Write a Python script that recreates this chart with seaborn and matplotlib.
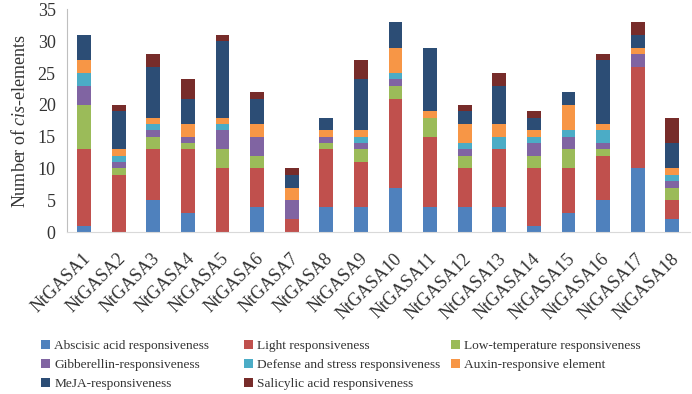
import matplotlib
matplotlib.use('Agg')
import matplotlib.pyplot as plt
import matplotlib.transforms as mtransforms
import seaborn as sns
import numpy as np

genes = ['NtGASA%d' % i for i in range(1, 19)]
categories = ['Abscisic acid responsiveness', 'Light responsiveness',
              'Low-temperature responsiveness', 'Gibberellin-responsiveness',
              'Defense and stress responsiveness', 'Auxin-responsive element',
              'MeJA-responsiveness', 'Salicylic acid responsiveness']

abscisic = [1, 0, 5, 3, 0, 4, 0, 4, 4, 7, 4, 4, 4, 1, 3, 5, 10, 2]
light = [12, 9, 8, 10, 10, 6, 2, 9, 7, 14, 11, 6, 9, 9, 7, 7, 16, 3]
low_temp = [7, 1, 2, 1, 3, 2, 0, 1, 2, 2, 3, 2, 0, 2, 3, 1, 0, 2]
gibberellin = [3, 1, 1, 1, 3, 3, 3, 1, 1, 1, 0, 1, 0, 2, 2, 1, 2, 1]
defense = [2, 1, 1, 0, 1, 0, 0, 0, 1, 1, 0, 1, 2, 1, 1, 2, 0, 1]
auxin = [2, 1, 1, 2, 1, 2, 2, 1, 1, 4, 1, 3, 2, 1, 4, 1, 1, 1]
meja = [4, 6, 8, 4, 12, 4, 2, 2, 8, 4, 10, 2, 6, 2, 2, 10, 2, 4]
salicylic = [0, 1, 2, 3, 1, 1, 1, 0, 3, 0, 0, 1, 2, 1, 0, 1, 2, 4]

series = [abscisic, light, low_temp, gibberellin, defense, auxin, meja, salicylic]
colors = ['#4F81BD', '#C0504D', '#9BBB59', '#8064A2',
          '#4BACC6', '#F79646', '#2C4D75', '#772C2A']

sns.set_style('white')
plt.rcParams['font.family'] = ['Liberation Serif', 'DejaVu Serif']
plt.rcParams['mathtext.fontset'] = 'custom'
plt.rcParams['mathtext.rm'] = 'Liberation Serif'
plt.rcParams['mathtext.it'] = 'Liberation Serif:italic'

fig = plt.figure(figsize=(6.92, 3.94), dpi=100)
ax = fig.add_axes([0.0965, 0.411, 0.9, 0.565])

bottom = np.zeros(len(genes))
for name, vals, c in zip(categories, series, colors):
    sns.barplot(x=genes, y=vals, bottom=bottom, color=c, width=0.4,
                label=name, ax=ax, saturation=1, linewidth=0)
    bottom += np.array(vals)

handles, labels = ax.get_legend_handles_labels()
if ax.get_legend() is not None:
    ax.get_legend().remove()

ax.set_ylim(0, 35)
ax.set_xlim(-0.5, 17.5)
ax.set_yticks(range(0, 36, 5))
ax.tick_params(axis='y', labelsize=13, length=0, pad=8, colors='#333333')
ax.tick_params(axis='x', labelsize=13, length=0, pad=13, colors='#333333')
shift = mtransforms.ScaledTranslation(-2 / 100, 0, fig.dpi_scale_trans)
for lab in ax.get_xticklabels():
    lab.set_rotation(45)
    lab.set_ha('right')
    lab.set_rotation_mode('anchor')
    lab.set_transform(lab.get_transform() + shift)
ax.set_ylabel('Number of $\\it{cis}$-elements', fontsize=13, color='#333333',
              labelpad=6)
for s in ['top', 'right']:
    ax.spines[s].set_visible(False)
ax.spines['left'].set_color('#BFBFBF')
ax.spines['bottom'].set_color('#D9D9D9')

# three legend columns at fixed positions, like the original layout
columns = [[0, 3, 6], [1, 4, 7], [2, 5]]
col_x = [41, 244, 451]
for idx, x0 in zip(columns, col_x):
    fig.legend([handles[i] for i in idx], [labels[i] for i in idx],
               loc='upper left', bbox_to_anchor=(x0 / 692, 1 - 340 / 394),
               ncol=1, frameon=False, fontsize=9.6, handlelength=0.65,
               handleheight=0.65, handletextpad=0.35, labelspacing=0.5,
               borderpad=0, borderaxespad=0, labelcolor='#333333')

fig.savefig('out.png', dpi=100)
